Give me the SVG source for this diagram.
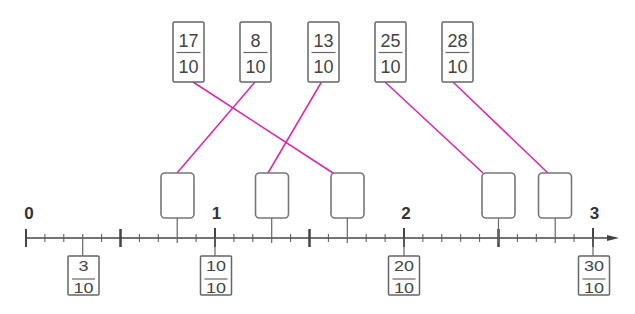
<svg xmlns="http://www.w3.org/2000/svg" width="635" height="314" viewBox="0 0 635 314">
<style>
.box{fill:#fff;stroke:#666;stroke-width:1.5}
.slot{fill:#fff;stroke:#777;stroke-width:1.6}
.t{font-family:"Liberation Sans",Arial,sans-serif;font-size:18px;fill:#444;text-anchor:middle}
.num{font-family:"Liberation Sans",Arial,sans-serif;font-size:17px;font-weight:bold;fill:#333;text-anchor:middle}
.fl{stroke:#666;stroke-width:1.2}
.conn{stroke:#e020b0;stroke-width:1.5;fill:none}
.stem{stroke:#666;stroke-width:1.2}
</style>
<rect width="635" height="314" fill="#fff"/>
<g id="axis">
<line x1="26" y1="238" x2="610" y2="238" stroke="#444" stroke-width="1.5"/>
<polygon points="607,235 619,238 607,241" fill="#444"/>
<path stroke="#555" stroke-width="1" d="M44.9 234V242M63.8 234V242M101.6 234V242M139.4 234V242M158.3 234V242M196.1 234V242M233.9 234V242M252.8 234V242M290.6 234V242M328.4 234V242M366.2 234V242M385.1 234V242M422.9 234V242M441.8 234V242M460.7 234V242M479.6 234V242M517.4 234V242M536.3 234V242M574.1 234V242"/>
<path stroke="#444" stroke-width="2.5" d="M120.5 229V247M309.5 229V247M498.5 229V247"/>
<path stroke="#444" stroke-width="2" d="M26 229V247M215 228V247M404 228V247M593 228V247"/>
<text class="num" x="29" y="219">0</text>
<text class="num" x="216.5" y="219">1</text>
<text class="num" x="406" y="219">2</text>
<text class="num" x="594.5" y="219">3</text>
</g>
<g id="stems">
<path class="stem" d="M177.2 218V243M271.7 218V243M347.3 218V243M498.5 218V243M555.2 218V243"/>
<path class="stem" d="M82.7 234V256M215 238V256M404 238V256M593 238V256"/>
</g>
<g id="connectors">
<line class="conn" x1="193" y1="82" x2="333" y2="173"/>
<line class="conn" x1="255" y1="82" x2="177" y2="173"/>
<line class="conn" x1="321.5" y1="82" x2="268" y2="173"/>
<line class="conn" x1="385" y1="82" x2="483" y2="173"/>
<line class="conn" x1="453" y1="82" x2="548" y2="173"/>
</g>
<g id="frac-17-10"><rect class="box" x="173" y="22" width="31" height="60" rx="1.5"/><text class="t" x="188.5" y="47">17</text><line class="fl" x1="176.5" y1="52.5" x2="200.5" y2="52.5"/><text class="t" x="188.5" y="72.5">10</text></g>
<g id="frac-8-10"><rect class="box" x="240" y="22" width="31" height="60" rx="1.5"/><text class="t" x="255.5" y="47">8</text><line class="fl" x1="243.5" y1="52.5" x2="267.5" y2="52.5"/><text class="t" x="255.5" y="72.5">10</text></g>
<g id="frac-13-10"><rect class="box" x="308" y="22" width="31" height="60" rx="1.5"/><text class="t" x="323.5" y="47">13</text><line class="fl" x1="311.5" y1="52.5" x2="335.5" y2="52.5"/><text class="t" x="323.5" y="72.5">10</text></g>
<g id="frac-25-10"><rect class="box" x="375" y="22" width="31" height="60" rx="1.5"/><text class="t" x="390.5" y="47">25</text><line class="fl" x1="378.5" y1="52.5" x2="402.5" y2="52.5"/><text class="t" x="390.5" y="72.5">10</text></g>
<g id="frac-28-10"><rect class="box" x="442" y="22" width="31" height="60" rx="1.5"/><text class="t" x="457.5" y="47">28</text><line class="fl" x1="445.5" y1="52.5" x2="469.5" y2="52.5"/><text class="t" x="457.5" y="72.5">10</text></g>
<g id="slot-0-8"><rect class="slot" x="161" y="173" width="33" height="45" rx="4"/></g>
<g id="slot-1-3"><rect class="slot" x="255.5" y="173" width="33" height="45" rx="4"/></g>
<g id="slot-1-7"><rect class="slot" x="331" y="173" width="33" height="45" rx="4"/></g>
<g id="slot-2-5"><rect class="slot" x="482" y="173" width="33" height="45" rx="4"/></g>
<g id="slot-2-8"><rect class="slot" x="538.5" y="173" width="33" height="45" rx="4"/></g>
<g id="label-3-10"><rect class="box" x="68" y="256" width="31" height="39" rx="1"/><text class="t" transform="translate(83.5 271) scale(1 0.77)">3</text><line class="fl" x1="72" y1="279" x2="95" y2="279"/><text class="t" transform="translate(83.5 293) scale(1 0.77)">10</text></g>
<g id="label-10-10"><rect class="box" x="200.5" y="256" width="31" height="39" rx="1"/><text class="t" transform="translate(216 271) scale(1 0.77)">10</text><line class="fl" x1="204.5" y1="279" x2="227.5" y2="279"/><text class="t" transform="translate(216 293) scale(1 0.77)">10</text></g>
<g id="label-20-10"><rect class="box" x="388.5" y="256" width="31" height="39" rx="1"/><text class="t" transform="translate(404 271) scale(1 0.77)">20</text><line class="fl" x1="392.5" y1="279" x2="415.5" y2="279"/><text class="t" transform="translate(404 293) scale(1 0.77)">10</text></g>
<g id="label-30-10"><rect class="box" x="578.5" y="256" width="31" height="39" rx="1"/><text class="t" transform="translate(594 271) scale(1 0.77)">30</text><line class="fl" x1="582.5" y1="279" x2="605.5" y2="279"/><text class="t" transform="translate(594 293) scale(1 0.77)">10</text></g>
</svg>
